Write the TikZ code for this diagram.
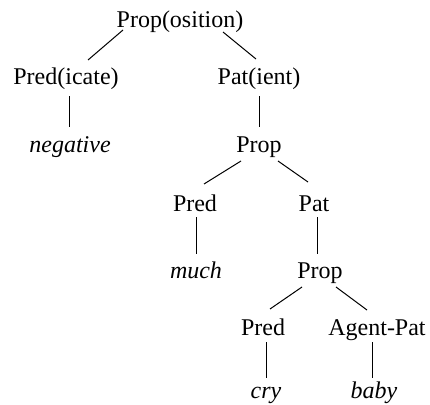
\documentclass[tikz,border=0pt]{standalone}
\usepackage{fontspec}
\setmainfont{Liberation Serif}
\usetikzlibrary{calc}

\begin{document}
\begin{tikzpicture}[
  x=1pt, y=-1pt,
  lab/.style={anchor=base, inner sep=0pt, font=\fontsize{24}{28}\selectfont},
  leaf/.style={lab, font=\fontsize{24}{28}\selectfont\itshape},
  edge/.style={line width=1pt},
]
\useasboundingbox (0,0) rectangle (430,404);

% ---------------- top level ----------------
\node[lab] (prop1) at (180,28) {Prop(osition)};
\node[lab] (pred1) at (66,84)  {Pred(icate)};
\node[lab] (pat1)  at (259,84) {Pat(ient)};
\node[leaf] (neg)  at (70,152) {negative};
\node[lab] (prop2) at (259,152) {Prop};

% ---------------- second level ----------------
\node[lab] (pred2) at (195,211) {Pred};
\node[lab] (pat2)  at (314,211) {Pat};
\node[leaf] (much) at (196,278) {much};
\node[lab] (prop3) at (320,278) {Prop};

% ---------------- third level ----------------
\node[lab] (pred3) at (263,335) {Pred};
\node[lab] (agent) at (377,335) {Agent-Pat};
\node[leaf] (cry)  at (266,398) {cry};
\node[leaf] (baby) at (374,398) {baby};

% ---------------- branches ----------------
\draw[edge] ([shift={(-57,2)}]prop1.base) -- ([shift={(22,-24)}]pred1.base);
\draw[edge] ([shift={(43,4)}]prop1.base)  -- ([shift={(-3,-25)}]pat1.base);
\draw[edge] ([shift={(3,12)}]pred1.base)  -- ([shift={(-1,-25)}]neg.base);
\draw[edge] ([shift={(0,12)}]pat1.base)   -- ([shift={(0,-25)}]prop2.base);

\draw[edge] ([shift={(-18,9)}]prop2.base) -- ([shift={(9,-27)}]pred2.base);
\draw[edge] ([shift={(19,9)}]prop2.base)  -- ([shift={(-6,-29)}]pat2.base);
\draw[edge] ([shift={(1,6)}]pred2.base)   -- ([shift={(0,-24)}]much.base);
\draw[edge] ([shift={(3,6)}]pat2.base)    -- ([shift={(-3,-24)}]prop3.base);

\draw[edge] ([shift={(-18,9)}]prop3.base) -- ([shift={(7,-26)}]pred3.base);
\draw[edge] ([shift={(16,9)}]prop3.base)  -- ([shift={(-10,-25)}]agent.base);
\draw[edge] ([shift={(3,7)}]pred3.base)   -- ([shift={(0,-20)}]cry.base);
\draw[edge] ([shift={(-5,7)}]agent.base)  -- ([shift={(-2,-20)}]baby.base);

\end{tikzpicture}
\end{document}
